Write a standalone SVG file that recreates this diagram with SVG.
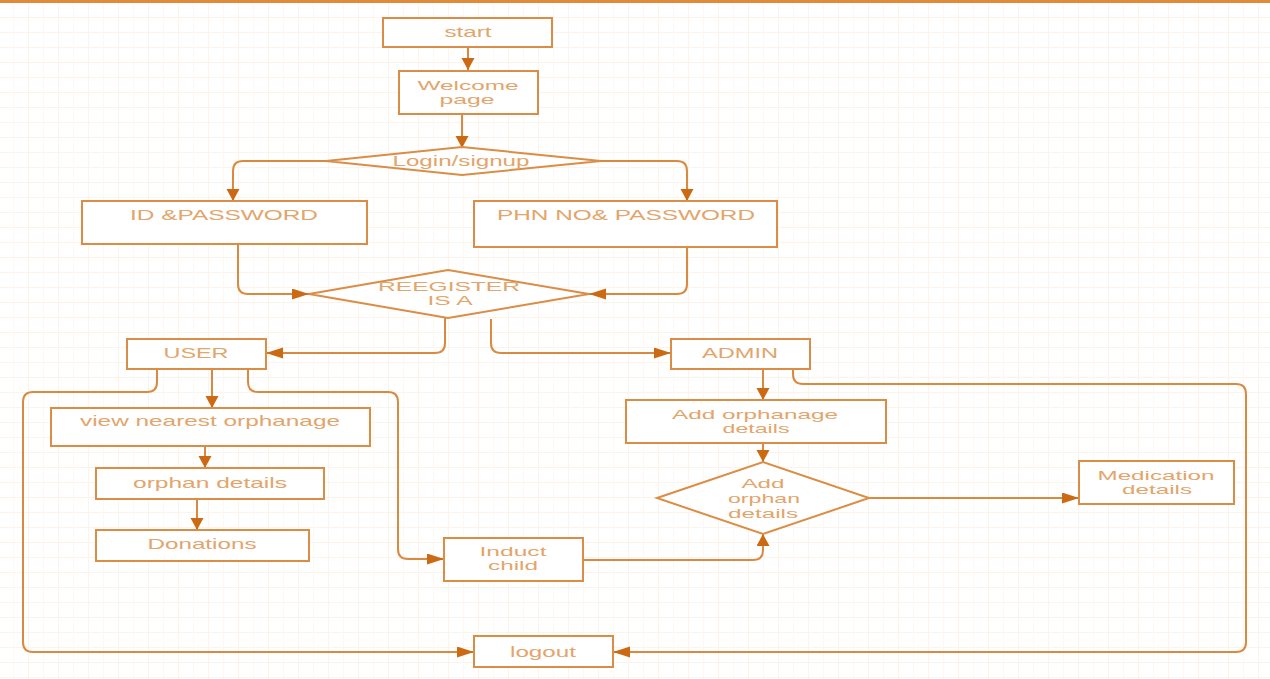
<svg xmlns="http://www.w3.org/2000/svg" width="1270" height="679" viewBox="0 0 1270 679">
<defs>
<style>
.box{fill:#ffffff;stroke:#db8d45;stroke-width:2}
.t{font-family:"Liberation Sans",Arial,sans-serif;font-size:15px;fill:#e2a56b;text-anchor:middle}
.m{font-size:13px}
.c{fill:none;stroke:#da8a40;stroke-width:2}
.v{marker-end:url(#ahv)}
.h{marker-end:url(#ahh)}
</style>
<pattern id="grid" width="30" height="15" patternUnits="userSpaceOnUse" x="28" y="2">
<path d="M0,0.5 H30 M0.5,0 V15" fill="none" stroke="#fcf3eb" stroke-width="1"/>
<path d="M15.5,0 V15" fill="none" stroke="#fdf8f3" stroke-width="1"/>
</pattern>
<marker id="ahv" markerUnits="userSpaceOnUse" markerWidth="14" markerHeight="14" refX="12" refY="6.5" orient="auto" viewBox="0 0 14 14">
<path d="M0,0 L12,6.5 L0,13 z" fill="#cc6a14"/>
</marker>
<marker id="ahh" markerUnits="userSpaceOnUse" markerWidth="18" markerHeight="12" refX="17" refY="5.5" orient="auto" viewBox="0 0 18 12">
<path d="M0,0 L17,5.5 L0,11 z" fill="#cc6a14"/>
</marker>
</defs>
<rect width="1270" height="679" fill="#ffffff"/>
<rect width="1270" height="679" fill="url(#grid)"/>
<rect x="0" y="0" width="1270" height="3" fill="#e08a3a"/>

<g id="connectors">
<path class="c v" d="M468,47 V70"/>
<path class="c v" d="M462,114 V148"/>
<path class="c v" d="M326,161 H243 Q233,161 233,171 V201"/>
<path class="c v" d="M601,161 H677 Q687,161 687,171 V201"/>
<path class="c h" d="M238,244 V284 Q238,294 248,294 H309"/>
<path class="c h" d="M687,247 V284 Q687,294 677,294 H589"/>
<path class="c h" d="M445,318 V343 Q445,353 435,353 H266"/>
<path class="c h" d="M491,319 V343 Q491,353 501,353 H671"/>
<path class="c v" d="M212,369 V408"/>
<path class="c h" d="M157,369 V382 Q157,392 147,392 H33 Q23,392 23,402 V642 Q23,652 33,652 H474"/>
<path class="c h" d="M248,369 V382 Q248,392 258,392 H388 Q398,392 398,402 V549 Q398,559 408,559 H444"/>
<path class="c v" d="M205,446 V468"/>
<path class="c v" d="M197,499 V530"/>
<path class="c v" d="M583,560 H753 Q763,560 763,550 V534"/>
<path class="c v" d="M763,369 V400"/>
<path class="c v" d="M763,443 V462"/>
<path class="c h" d="M869,498 H1079"/>
<path class="c h" d="M793,369 V374 Q793,384 803,384 H1236 Q1246,384 1246,394 V642 Q1246,652 1236,652 H613"/>
</g>

<g id="start"><rect class="box" x="383" y="18" width="169" height="29"/><text class="t" x="468" y="37" textLength="47" lengthAdjust="spacingAndGlyphs">start</text></g>
<g id="welcome"><rect class="box" x="399" y="71" width="139" height="43"/><text class="t m" x="468" y="89.7" textLength="101" lengthAdjust="spacingAndGlyphs">Welcome</text><text class="t m" x="467" y="104.3" textLength="55" lengthAdjust="spacingAndGlyphs">page</text></g>
<g id="login"><polygon class="box" points="326,161 462,147 601,161 462,175"/><text class="t" x="461" y="166" textLength="137" lengthAdjust="spacingAndGlyphs">Login/signup</text></g>
<g id="idpass"><rect class="box" x="82" y="201" width="285" height="43"/><text class="t" x="224" y="220" textLength="188" lengthAdjust="spacingAndGlyphs">ID &amp;PASSWORD</text></g>
<g id="phnpass"><rect class="box" x="474" y="201" width="303" height="46"/><text class="t" x="626" y="220" textLength="258" lengthAdjust="spacingAndGlyphs">PHN NO&amp; PASSWORD</text></g>
<g id="register"><polygon class="box" points="309,294 448,270 589,294 448,318"/><text class="t m" x="449" y="290.7" textLength="142" lengthAdjust="spacingAndGlyphs">REEGISTER</text><text class="t m" x="450" y="305.3" textLength="45" lengthAdjust="spacingAndGlyphs">IS A</text></g>
<g id="user"><rect class="box" x="127" y="339" width="139" height="30"/><text class="t" x="196" y="358" textLength="65" lengthAdjust="spacingAndGlyphs">USER</text></g>
<g id="admin"><rect class="box" x="671" y="339" width="139" height="30"/><text class="t" x="740" y="358" textLength="76" lengthAdjust="spacingAndGlyphs">ADMIN</text></g>
<g id="view"><rect class="box" x="51" y="408" width="319" height="38"/><text class="t" x="210" y="426" textLength="260" lengthAdjust="spacingAndGlyphs">view nearest orphanage</text></g>
<g id="orphan"><rect class="box" x="96" y="468" width="228" height="31"/><text class="t" x="210" y="488" textLength="154" lengthAdjust="spacingAndGlyphs">orphan details</text></g>
<g id="donations"><rect class="box" x="96" y="530" width="213" height="31"/><text class="t" x="202" y="549" textLength="109" lengthAdjust="spacingAndGlyphs">Donations</text></g>
<g id="induct"><rect class="box" x="444" y="538" width="139" height="43"/><text class="t m" x="513" y="555.7" textLength="67" lengthAdjust="spacingAndGlyphs">Induct</text><text class="t m" x="513" y="570.3" textLength="50" lengthAdjust="spacingAndGlyphs">child</text></g>
<g id="addorphanage"><rect class="box" x="626" y="400" width="260" height="43"/><text class="t m" x="755" y="418.7" textLength="166" lengthAdjust="spacingAndGlyphs">Add orphanage</text><text class="t m" x="756" y="433.3" textLength="67" lengthAdjust="spacingAndGlyphs">details</text></g>
<g id="addorphan"><polygon class="box" points="657,498 763,462 869,498 763,534"/><text class="t m" x="763" y="488.4" textLength="43" lengthAdjust="spacingAndGlyphs">Add</text><text class="t m" x="764" y="503" textLength="72" lengthAdjust="spacingAndGlyphs">orphan</text><text class="t m" x="763" y="517.6" textLength="70" lengthAdjust="spacingAndGlyphs">details</text></g>
<g id="medication"><rect class="box" x="1079" y="461" width="155" height="43"/><text class="t m" x="1156" y="479.7" textLength="117" lengthAdjust="spacingAndGlyphs">Medication</text><text class="t m" x="1157" y="494.3" textLength="70" lengthAdjust="spacingAndGlyphs">details</text></g>
<g id="logout"><rect class="box" x="474" y="636" width="139" height="31"/><text class="t" x="543" y="657" textLength="66" lengthAdjust="spacingAndGlyphs">logout</text></g>
</svg>
